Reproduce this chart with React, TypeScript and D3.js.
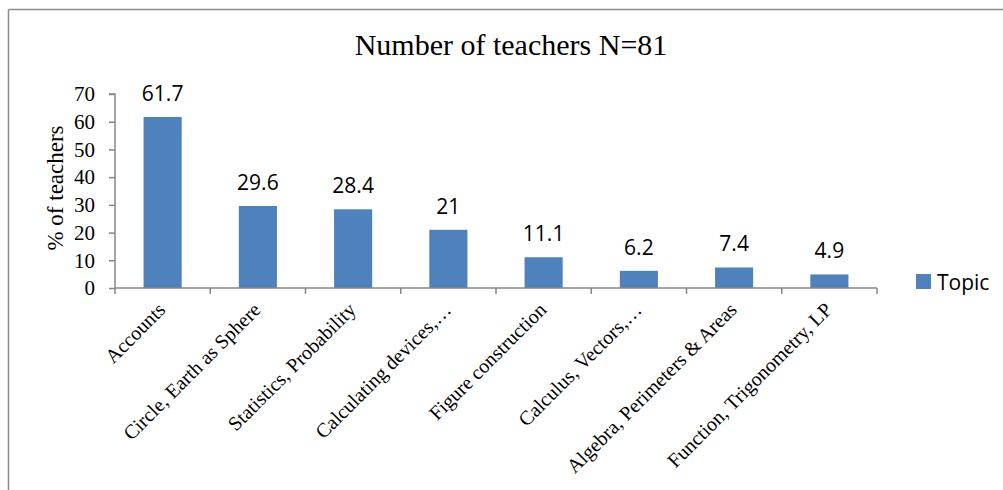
import React, { useEffect, useRef } from 'react';
import * as d3 from 'd3';

const topics = [
  'Accounts',
  'Circle, Earth as Sphere',
  'Statistics, Probability',
  'Calculating devices,…',
  'Figure construction',
  'Calculus, Vectors,…',
  'Algebra, Perimeters & Areas',
  'Function, Trigonometry, LP',
];
const percents = [61.7, 29.6, 28.4, 21, 11.1, 6.2, 7.4, 4.9];
const yTicks = [0, 10, 20, 30, 40, 50, 60, 70];

const App = () => {
  const svgRef = useRef<SVGSVGElement>(null);

  useEffect(() => {
    const svg = d3.select(svgRef.current);
    svg.selectAll('*').remove();

    const width = 1003;
    const height = 490;
    const serif = '"Liberation Serif", "Times New Roman", serif';
    const sans = '"Open Sans", "Liberation Sans", sans-serif';
    const axisColor = '#868686';
    const barColor = '#4F81BD';

    svg.attr('width', width).attr('height', height);

    // frame (only top and left edges visible)
    svg.append('line')
      .attr('x1', 8.5).attr('x2', width).attr('y1', 9.5).attr('y2', 9.5)
      .attr('stroke', '#8c8c8c').attr('stroke-width', 1.5);
    svg.append('line')
      .attr('x1', 8.5).attr('x2', 8.5).attr('y1', 9.5).attr('y2', height)
      .attr('stroke', '#8c8c8c').attr('stroke-width', 1.5);

    const left = 115;
    const right = 877;
    const top = 94;
    const bottom = 288;

    const x = d3.scaleBand<string>()
      .domain(topics)
      .range([left, right])
      .paddingInner(0.6)
      .paddingOuter(0.3);

    const y = d3.scaleLinear().domain([0, 70]).range([bottom, top]);

    // title
    svg.append('text')
      .attr('x', 511)
      .attr('y', 55)
      .attr('text-anchor', 'middle')
      .attr('font-family', serif)
      .attr('font-size', 30)
      .attr('fill', '#000')
      .text('Number of teachers N=81');

    // bars
    svg.selectAll('.bar')
      .data(percents)
      .enter().append('rect')
      .attr('class', 'bar')
      .attr('x', (d, i) => x(topics[i])!)
      .attr('width', x.bandwidth())
      .attr('y', d => y(d))
      .attr('height', d => y(0) - y(d))
      .attr('fill', barColor);

    // value labels
    svg.selectAll('.val')
      .data(percents)
      .enter().append('text')
      .attr('class', 'val')
      .attr('x', (d, i) => x(topics[i])! + x.bandwidth() / 2)
      .attr('y', d => y(d) - 16)
      .attr('text-anchor', 'middle')
      .attr('font-family', sans)
      .attr('font-size', 21)
      .attr('fill', '#000')
      .text(d => String(d));

    // y axis
    const yAxis = svg.append('g')
      .attr('transform', `translate(${left},0)`)
      .call(d3.axisLeft(y).tickValues(yTicks).tickSize(6).tickPadding(14));
    yAxis.select('.domain').attr('stroke', axisColor).attr('stroke-width', 1.5)
      .attr('d', `M-6,${top}H0V${bottom}`);
    yAxis.selectAll('.tick line').attr('stroke', axisColor).attr('stroke-width', 1.5);
    yAxis.selectAll('.tick text')
      .attr('font-family', serif)
      .attr('font-size', 21)
      .attr('fill', '#000');

    // x axis with tick marks at band boundaries
    const step = (right - left) / topics.length;
    const xAxis = svg.append('g');
    xAxis.append('line')
      .attr('x1', left).attr('x2', right)
      .attr('y1', bottom).attr('y2', bottom)
      .attr('stroke', axisColor).attr('stroke-width', 1.5);
    xAxis.selectAll('.xt')
      .data(d3.range(topics.length + 1))
      .enter().append('line')
      .attr('x1', i => left + i * step)
      .attr('x2', i => left + i * step)
      .attr('y1', bottom)
      .attr('y2', bottom + 6)
      .attr('stroke', axisColor).attr('stroke-width', 1.5);

    xAxis.selectAll('.xl')
      .data(topics)
      .enter().append('text')
      .attr('transform', d => `translate(${x(d)! + x.bandwidth() / 2 + 4},${bottom + 23}) rotate(-45)`)
      .attr('text-anchor', 'end')
      .attr('font-family', serif)
      .attr('font-size', 20)
      .attr('fill', '#000')
      .text(d => d);

    // y axis label
    svg.append('text')
      .attr('transform', `translate(63,188) rotate(-90)`)
      .attr('text-anchor', 'middle')
      .attr('font-family', serif)
      .attr('font-size', 23)
      .attr('fill', '#000')
      .text('% of teachers');

    // legend
    svg.append('rect')
      .attr('x', 916).attr('y', 274).attr('width', 15).attr('height', 15)
      .attr('fill', barColor);
    svg.append('text')
      .attr('x', 937).attr('y', 290)
      .attr('font-family', sans)
      .attr('font-size', 21)
      .attr('fill', '#000')
      .text('Topic');
  }, []);

  return (
    <div style={{ position: 'absolute', left: 0, top: 0, background: '#fff' }}>
      <svg ref={svgRef} style={{ display: 'block' }}></svg>
    </div>
  );
};

export default App;
